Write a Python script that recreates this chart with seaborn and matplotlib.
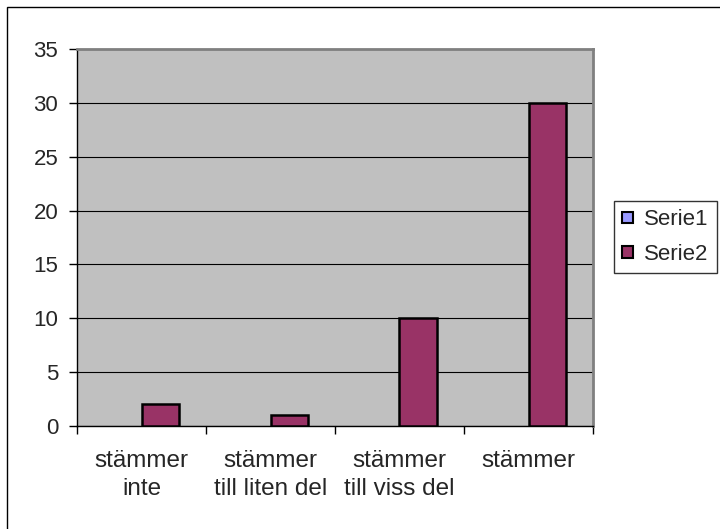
import pandas as pd
import matplotlib
matplotlib.use('Agg')
import matplotlib.pyplot as plt
from matplotlib.patches import Rectangle
import seaborn as sns

# data
categories = ['stämmer\ninte', 'stämmer\ntill liten del', 'stämmer\ntill viss del', 'stämmer']
serie1 = [0, 0, 0, 0]
serie2 = [2, 1, 10, 30]
series_names = ['Serie1', 'Serie2']
colors = ['#9999FF', '#993366']

df = pd.DataFrame({
    'Kategori': categories * 2,
    'Värde': serie1 + serie2,
    'Serie': [series_names[0]] * 4 + [series_names[1]] * 4,
})

sns.set_style('white')
plt.rcParams['font.family'] = ['Liberation Sans', 'DejaVu Sans']

fig = plt.figure(figsize=(7.2, 5.29), dpi=100)
ax = fig.add_axes([77 / 720, 1 - 426 / 529, 516 / 720, 377 / 529])
ax.set_facecolor('#C0C0C0')

sns.barplot(data=df, x='Kategori', y='Värde', hue='Serie', palette=colors,
            saturation=1, width=0.575, edgecolor='black', linewidth=1.8,
            ax=ax, zorder=3)

# zero bars are not drawn in the reference
for p in ax.patches:
    if p.get_height() == 0:
        p.set_linewidth(0)

ax.set_ylim(0, 35)
ax.set_xlim(-0.5, 3.5)
ax.set_yticks(range(0, 36, 5))
ax.yaxis.grid(True, color='black', linewidth=0.8, zorder=0)
ax.set_axisbelow(True)
ax.set_xlabel('')
ax.set_ylabel('')

# category boundaries as ticks, labels at centers
ax.set_xticks([-0.5, 0.5, 1.5, 2.5, 3.5], minor=True)
ax.tick_params(axis='x', which='minor', length=5.5, width=1, color='black', direction='out')
ax.tick_params(axis='x', which='major', length=0, pad=17, labelsize=17.5)
ax.tick_params(axis='y', length=5.5, width=1, color='black', direction='out', labelsize=16, pad=8)
ax.tick_params(bottom=True, left=True, which='both')
for t in ax.get_xticklabels():
    t.set_linespacing(1.35)

for s in ['left', 'bottom']:
    ax.spines[s].set_color('black')
    ax.spines[s].set_linewidth(1)
for s in ['top', 'right']:
    ax.spines[s].set_color('#808080')
    ax.spines[s].set_linewidth(2)
    ax.spines[s].set_visible(True)

handles, labels = ax.get_legend_handles_labels()
ax.legend(handles, labels, loc='center left', bbox_to_anchor=(614 / 720, 1 - 237 / 529),
          bbox_transform=fig.transFigure, frameon=True, fancybox=False,
          edgecolor='black', fontsize=16, handlelength=0.5, handleheight=0.4,
          handletextpad=0.5, borderpad=0.36, labelspacing=0.62, borderaxespad=0)
leg = ax.get_legend()
leg.get_frame().set_linewidth(1)
for h in leg.legend_handles:
    h.set_edgecolor('black')
    h.set_linewidth(1.5)

# outer chart border (right and bottom edges fall off the canvas)
fig.patches.append(Rectangle((7 / 720, -5 / 529), 720 / 720, 527 / 529,
                             transform=fig.transFigure, fill=False,
                             edgecolor='black', linewidth=1))

fig.savefig('out.png', dpi=100)
